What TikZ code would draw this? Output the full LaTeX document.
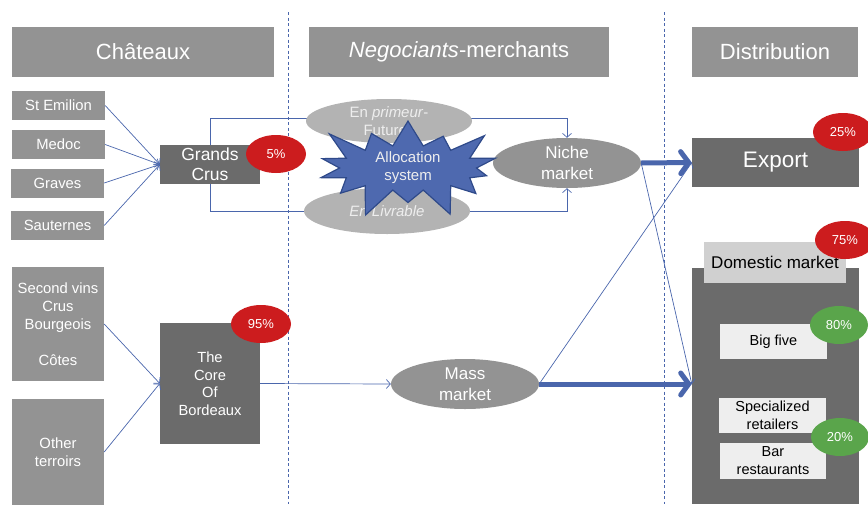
\documentclass[tikz,border=0pt]{standalone}
\usepackage{fontspec}
\setmainfont{Liberation Sans}
\usepackage{xcolor}
\usepackage{tikz}
\usetikzlibrary{arrows.meta,shapes.geometric,shapes.symbols}
\definecolor{headgray}{HTML}{939393}
\definecolor{coregray}{HTML}{6B6B6B}
\definecolor{lightoval}{HTML}{B3B3B3}
\definecolor{labelgray}{HTML}{D0D0D0}
\definecolor{innerwhite}{HTML}{EEEEEE}
\definecolor{flowblue}{HTML}{4A66AC}
\definecolor{burstblue}{HTML}{4E69AF}
\definecolor{burstedge}{HTML}{2F4A8A}
\definecolor{redspot}{HTML}{CC1C1E}
\definecolor{greenspot}{HTML}{5AA54B}
\newcommand{\fs}[2]{\fontsize{#1}{#2}\selectfont}

\begin{document}
\begin{tikzpicture}[x=1pt,y=-1pt,
head/.style={fill=headgray,text=white,inner sep=0pt,minimum height=50pt,font=\fs{22}{26}},
chateau/.style={fill=headgray,text=white,inner sep=0pt,align=center,font=\fs{14.8}{18}},
core/.style={fill=coregray,text=white,inner sep=0pt,align=center},
oval/.style={ellipse,fill=headgray,text=white,inner sep=0pt,align=center,font=\fs{17}{21}},
spot/.style={ellipse,fill=redspot,text=white,inner sep=0pt,minimum width=60pt,minimum height=38pt,font=\fs{13}{15}},
inner/.style={fill=innerwhite,text=black,inner sep=0pt,align=center,font=\fs{14.5}{18},minimum width=107pt,minimum height=35pt},
flow/.style={draw=flowblue,line width=0.7pt,-{Straight Barb[length=4pt,width=9pt]}},
bigflow/.style={draw=flowblue,line width=5pt,-{Straight Barb[length=8pt,width=22pt,line cap=round]}},
sep/.style={draw=flowblue,line width=0.6pt,dash pattern=on 3pt off 2.5pt}
]
\useasboundingbox (0,0) rectangle (868,504);
\draw[sep] (288,12) -- (288,504);
\draw[sep] (664,12) -- (664,504);

\node[head,minimum width=262pt] (hchat) at (143,52) {Châteaux};
\node[head,minimum width=300pt] (hneg) at (459,52) {\textit{Negociants}-merchants};
\node[head,minimum width=166pt] (hdist) at (775,52) {Distribution};

\node[chateau,minimum width=93pt,minimum height=29pt] (stem) at (58.5,105.5) {St Emilion};
\node[chateau,minimum width=93pt,minimum height=29pt] (medoc) at (58.5,144.5) {Medoc};
\node[chateau,minimum width=93pt,minimum height=29pt] (graves) at (57.5,183) {Graves};
\node[chateau,minimum width=93pt,minimum height=29pt] (saut) at (57.5,225.5) {Sauternes};
\node[chateau,minimum width=92pt,minimum height=114pt] (second) at (58,324) {Second vins\\Crus\\Bourgeois\\[18pt]Côtes};
\node[chateau,minimum width=92pt,minimum height=106pt] (other) at (58,452) {Other\\terroirs};

\node[core,minimum width=100pt,minimum height=39pt,font=\fs{17.5}{20}] (gc) at (210,164.5) {Grands\\Crus};
\node[core,minimum width=100pt,minimum height=121pt,font=\fs{14.7}{17.5}] (bord) at (210,383.5) {The\\Core\\Of\\Bordeaux};
\node[spot] (gcpct) at (276,154) {5\%};
\node[spot] (bordpct) at (261,324) {95\%};

\node[oval,minimum width=148pt,minimum height=50pt] (niche) at (567,163) {Niche\\market};
\node[oval,minimum width=148pt,minimum height=50pt] (mass) at (465,384) {Mass\\market};

\draw[flow] (gc.north) -- ++(0,-26) -| (niche.north);
\draw[flow] (gc.south) -- ++(0,27) -| (niche.south);

\node[oval,fill=lightoval,minimum width=166pt,minimum height=44pt,font=\fs{15}{18},text=innerwhite] (prim) at (389,121) {En \textit{primeur}-\\Futures};
\node[oval,fill=lightoval,minimum width=166pt,minimum height=46pt,font=\fs{15}{18},text=innerwhite] (livr) at (387,211) {\textit{En Livrable}};
\node[starburst,starburst points=14,starburst point height=34pt,fill=burstblue,draw=burstedge,line width=1.2pt,
  text=innerwhite,align=center,inner sep=0pt,minimum width=205pt,minimum height=96pt,font=\fs{15}{18}] (alloc) at (408,168) {Allocation\\system};

\node[core,minimum width=167pt,minimum height=49pt,font=\fs{22.5}{26}] (export) at (775.5,162.5) {Export};
\node[core,minimum width=167pt,minimum height=236pt] (dom) at (775.5,386) {};
\node[fill=labelgray,text=black,inner sep=0pt,minimum width=142pt,minimum height=41pt,font=\fs{17}{20}] (domlbl) at (775,262.5) {Domestic market};
\node[inner] (big) at (773.5,341.5) {Big five};
\node[inner] (spec) at (772.5,415.5) {Specialized\\retailers};
\node[inner,minimum width=106pt,minimum height=36pt] (bar) at (773,461) {Bar\\restaurants};
\node[spot] (exppct) at (843,132) {25\%};
\node[spot] (dompct) at (845,240) {75\%};
\node[spot,fill=greenspot,minimum width=58pt] (bigpct) at (839,325) {80\%};
\node[spot,fill=greenspot,minimum width=58pt] (retpct) at (840,437) {20\%};

\coordinate (domin) at (mass.east -| dom.west);
\foreach \src in {stem,medoc,graves,saut}
  \draw[flow] (\src.east) -- (gc.west);
\draw[flow] (second.east) -- (bord.west);
\draw[flow] (other.east) -- (bord.west);
\draw[flow] (bord.east) -- (mass.west);
\draw[flow] (mass.east) -- (export.west);
\draw[flow] (niche.east) -- (domin);
\draw[bigflow] (niche.east) -- (export.west);
\draw[bigflow] (mass.east) -- (domin);
\end{tikzpicture}
\end{document}
